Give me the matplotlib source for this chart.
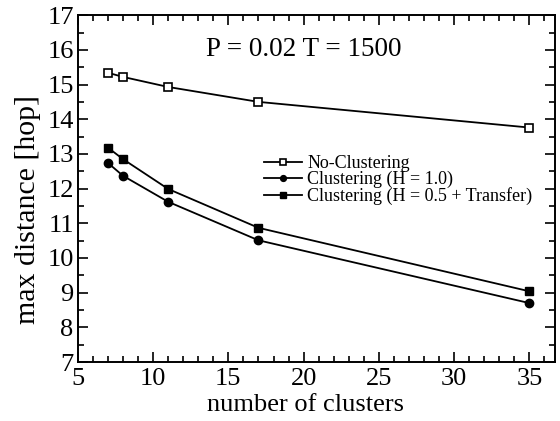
import matplotlib
matplotlib.use("Agg")
import matplotlib.pyplot as plt
from matplotlib.ticker import MultipleLocator

plt.rcParams['font.family'] = ['Liberation Serif', 'DejaVu Serif']

# data
clusters = [7, 8, 11, 17, 35]
no_clustering = [15.34, 15.22, 14.93, 14.50, 13.76]
clustering_h10 = [12.74, 12.37, 11.62, 10.51, 8.70]
clustering_h05_transfer = [13.18, 12.85, 11.99, 10.87, 9.04]

labels = ['No-Clustering', 'Clustering (H = 1.0)', 'Clustering (H = 0.5 + Transfer)']

fig = plt.figure(figsize=(5.6, 4.21), dpi=100)
ax = fig.add_axes([0.139, 0.14, 0.852, 0.824])

ax.plot(clusters, no_clustering, color='black', lw=1.3, marker='s', ms=6,
        mfc='white', mec='black', mew=1.2, label=labels[0])
ax.plot(clusters, clustering_h10, color='black', lw=1.3, marker='o', ms=6,
        mfc='black', mec='black', label=labels[1])
ax.plot(clusters, clustering_h05_transfer, color='black', lw=1.3, marker='s', ms=6,
        mfc='black', mec='black', label=labels[2])

ax.set_xlim(5, 36.7)
ax.set_ylim(7, 17)
ax.xaxis.set_major_locator(MultipleLocator(5))
ax.xaxis.set_minor_locator(MultipleLocator(1))
ax.yaxis.set_major_locator(MultipleLocator(1))
ax.yaxis.set_minor_locator(MultipleLocator(0.5))
ax.tick_params(which='both', direction='in', top=True, right=True, width=1.2,
               labelsize=19)
ax.tick_params(which='major', length=7)
ax.tick_params(which='minor', length=4)
ax.tick_params(axis='x', pad=4)
ax.tick_params(axis='y', pad=3)
for s in ax.spines.values():
    s.set_linewidth(1.4)

ax.set_xlabel('number of clusters', fontsize=19)
ax.set_ylabel('max distance [hop]', fontsize=21.5)
ax.xaxis.set_label_coords(0.478, -0.093)
ax.yaxis.set_label_coords(-0.078, 0.44)

ax.text(20.0, 16.0, 'P = 0.02 T = 1500', fontsize=19.5, ha='center', va='center')

leg = ax.legend(loc='upper left', bbox_to_anchor=(0.39, 0.597), frameon=False,
                fontsize=13, handlelength=2.1, handletextpad=0.3,
                labelspacing=-0.05, markerscale=0.7, borderaxespad=0,
                borderpad=0)

fig.savefig('out.png', dpi=100)
